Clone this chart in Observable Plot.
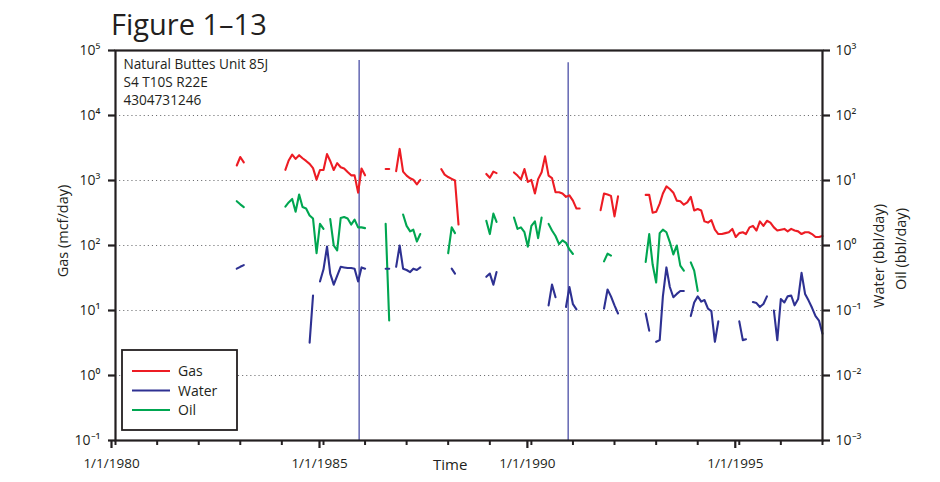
<!DOCTYPE html>
<html><head><meta charset="utf-8">
<script src="https://cdn.jsdelivr.net/npm/d3@7"></script>
<script src="https://cdn.jsdelivr.net/npm/@observablehq/plot@0.6"></script>
<style>
body{margin:0;background:#fff;font-family:"Open Sans",sans-serif;color:#231f20}
#wrap{position:relative;width:940px;height:482px;overflow:hidden}
.abs{position:absolute;white-space:nowrap;line-height:1}
</style></head><body><div id="wrap"></div>
<script>
// ---- data (monthly values; each segment = [first month, values...]) ----
const gasSegments = [ // mcf/day
  ["1982-12", [1700, 2300, 1900]],
  ["1984-02", [1460, 2030, 2500, 2150, 2450, 2200, 2000, 1800, 1550, 1030, 1450, 1450, 2550, 2000, 1450, 1850, 1600, 1530, 1350, 1200, 1200, 650, 1530, 1200]],
  ["1986-07", [1500, 1500]],
  ["1986-10", [1390, 3060, 1370, 1190, 1080, 1030, 870, 1020]],
  ["1987-11", [1500, 1230, 1130, 1060, 1000, 210]],
  ["1988-12", [1260, 1100, 1370, 1300]],
  ["1989-08", [1330, 1190, 1040, 1500, 950, 1020, 630, 1050, 1340, 2350, 1190, 1090, 660, 660, 630, 560, 590, 490, 370, 370]],
  ["1991-09", [350, 630, 610, 580, 280, 570]],
  ["1992-10", [600, 600, 320, 330, 440, 630, 810, 740, 650, 490, 480, 425, 460, 560, 345, 365, 345, 235, 225, 245, 175, 150, 150, 155, 160, 180, 135, 155, 160, 150, 190, 200, 170, 235, 200, 240, 225, 190, 170, 175, 180, 165, 180, 170, 165, 150, 160, 160, 150, 135, 135, 140]]
];
const waterSegments = [ // bbl/day
  ["1982-12", [0.44, 0.47, 0.5]],
  ["1984-09", [0.032, 0.17]],
  ["1984-12", [0.28, 0.43, 0.96, 0.37, 0.25, 0.34, 0.47, 0.46, 0.45, 0.45, 0.44, 0.28, 0.46, 0.44]],
  ["1986-07", [0.44, 0.44]],
  ["1986-10", [0.47, 1.0, 0.44, 0.42, 0.39, 0.44, 0.42, 0.46]],
  ["1988-02", [0.44, 0.37]],
  ["1988-12", [0.33, 0.37, 0.25, 0.39]],
  ["1990-06", [0.12, 0.25, 0.16]],
  ["1990-11", [0.113, 0.23, 0.125, 0.104]],
  ["1991-10", [0.107, 0.21, 0.165, 0.12, 0.09]],
  ["1992-10", [0.09, 0.049]],
  ["1993-01", [0.033, 0.035, 0.165, 0.46, 0.23, 0.16, 0.18, 0.2, 0.2]],
  ["1993-11", [0.082, 0.133, 0.165, 0.137, 0.145, 0.107, 0.098, 0.033, 0.068]],
  ["1995-01", [0.068, 0.035, 0.036]],
  ["1995-05", [0.135, 0.13, 0.113, 0.126, 0.165]],
  ["1995-11", [0.1, 0.035, 0.15, 0.133, 0.165, 0.17, 0.12, 0.15, 0.38, 0.18, 0.142, 0.11, 0.082, 0.07, 0.044]]
];
const oilSegments = [ // bbl/day
  ["1982-12", [4.8, 4.3, 3.9]],
  ["1984-02", [3.95, 4.6, 5.2, 3.3, 6.1, 3.9, 3.7, 2.9, 2.6, 0.76, 2.15, 1.8]],
  ["1985-03", [2.55, 1.0, 0.84, 2.65, 2.75, 2.6, 2.1, 2.5, 1.9, 1.9, 1.85]],
  ["1986-07", [2.15, 0.07]],
  ["1986-12", [3.0, 2.0, 1.65, 1.75, 1.15, 1.5]],
  ["1988-01", [0.76, 1.9, 1.55]],
  ["1988-12", [2.4, 1.5, 3.1, 2.3]],
  ["1989-08", [2.7, 1.8, 1.9, 1.6, 0.96, 2.0, 2.35, 1.3, 2.7]],
  ["1990-06", [2.15, 1.7, 1.4, 1.05, 1.2, 1.1, 0.87, 0.74]],
  ["1991-10", [0.57, 0.75, 0.7]],
  ["1992-10", [0.56, 1.5, 0.51, 0.27, 1.55, 1.75, 1.6, 1.13, 0.73, 1.0, 0.49, 0.41]],
  ["1993-11", [0.55, 0.41, 0.2]]
];
const eventDates = ["1985-11-10", "1990-11-20"];
const eventTops = [70000, 65000];
const leftTicks = [0.1, 1, 10, 100, 1000, 10000, 100000];
const gridTicks = [1, 10, 100, 1000, 10000];
const rightPerLeft = 100; // right axis (bbl/day) = left axis / 100
const yearTicks = d3.range(1980, 1998);
const labelYears = [1980, 1985, 1990, 1995];
const infoLines = ["Natural Buttes Unit 85J", "S4 T10S R22E", "4304731246"];
const legendItems = [["Gas", "#ed1c24"], ["Water", "#2e3192"], ["Oil", "#00a651"]];
const title = "Figure 1\u201313";

// ---- build ----
const parseM = d3.utcParse("%Y-%m");
function expand(segs, name, factor) {
  const out = [];
  segs.forEach(([start, vals], i) => {
    const d0 = parseM(start);
    vals.forEach((v, j) => out.push({date: d3.utcMonth.offset(d0, j), value: v * factor, seg: name + i}));
  });
  return out;
}
const gas = expand(gasSegments, "g", 1);
const water = expand(waterSegments, "w", rightPerLeft);
const oil = expand(oilSegments, "o", rightPerLeft);
const events = eventDates.map((d, i) => ({date: new Date(d), top: eventTops[i]}));
const supMap = {"0":"\u2070","1":"\u00b9","2":"\u00b2","3":"\u00b3","4":"\u2074","5":"\u2075","6":"\u2076","7":"\u2077","8":"\u2078","9":"\u2079","-":"\u207b"};
const sup = v => "10" + String(Math.round(Math.log10(v))).split("").map(c => supMap[c]).join("");
const yr = y => new Date(Date.UTC(y, 0, 1));

const ink = "#231f20";
const chart = Plot.plot({
  width: 940, height: 482,
  marginLeft: 115, marginRight: 118, marginTop: 50, marginBottom: 42,
  style: {fontFamily: "'Open Sans', sans-serif", fontSize: "14px", color: ink, background: "white", overflow: "visible"},
  x: {type: "utc", domain: [yr(1980), yr(1997)]},
  y: {type: "log", domain: [0.1, 100000]},
  marks: [
    Plot.ruleY(gridTicks, {stroke: "#6d6e71", strokeWidth: 1.1, strokeDasharray: "1.1,3"}),
    Plot.ruleX(events, {x: "date", y1: 0.1, y2: "top", stroke: "#4b4fa6", strokeWidth: 1.3}),
    Plot.line(oil, {x: "date", y: "value", z: "seg", stroke: "#00a651", strokeWidth: 2.1}),
    Plot.line(water, {x: "date", y: "value", z: "seg", stroke: "#2e3192", strokeWidth: 2.1}),
    Plot.line(gas, {x: "date", y: "value", z: "seg", stroke: "#ed1c24", strokeWidth: 2.1}),
    Plot.frame({stroke: ink, strokeWidth: 2.2}),
    Plot.axisY(leftTicks, {anchor: "left", tickSize: 7, tickPadding: 8, strokeWidth: 2.2, stroke: ink, tickFormat: sup, label: null}),
    Plot.axisY(leftTicks, {anchor: "right", tickSize: 7, tickPadding: 6, strokeWidth: 2.2, stroke: ink, tickFormat: v => sup(v / rightPerLeft), label: null}),
    Plot.axisX(yearTicks.map(yr), {anchor: "bottom", tickSize: 5, strokeWidth: 2, stroke: ink, tickFormat: () => "", label: null}),
    Plot.axisX(labelYears.map(yr), {anchor: "bottom", tickSize: 8, tickPadding: 10, strokeWidth: 2.2, stroke: ink, dx: -4, fontSize: 13.5, tickFormat: d => "1/1/" + d.getUTCFullYear(), label: null}),
    Plot.text([infoLines.join("\n")], {frameAnchor: "top-left", dx: 8, dy: 6, lineAnchor: "top", textAnchor: "start", lineHeight: 1.31, fontSize: 13.6, fill: ink})
  ]
});
const wrap = document.getElementById("wrap");
wrap.appendChild(chart);
chart.style.position = "absolute"; chart.style.left = "0"; chart.style.top = "0";

function addText(txt, css) {
  const d = document.createElement("div");
  d.className = "abs"; d.textContent = txt; Object.assign(d.style, css); wrap.appendChild(d); return d;
}
addText(title, {left: "111px", top: "9px", fontSize: "29px", color: ink});
addText("Time", {left: "433px", top: "457px", fontSize: "15px", color: ink});
addText("Gas (mcf/day)", {left: "63px", top: "231px", fontSize: "14.5px", color: ink, transform: "translate(-50%,-50%) rotate(-90deg)"});
addText("Water (bbl/day)", {left: "879px", top: "256px", fontSize: "14.5px", color: ink, transform: "translate(-50%,-50%) rotate(-90deg)"});
addText("Oil (bbl/day)", {left: "901px", top: "249px", fontSize: "14.5px", color: ink, transform: "translate(-50%,-50%) rotate(-90deg)"});

// legend
const ns = "http://www.w3.org/2000/svg";
const lg = document.createElementNS(ns, "svg");
lg.setAttribute("width", 940); lg.setAttribute("height", 482);
lg.style.position = "absolute"; lg.style.left = "0"; lg.style.top = "0";
const box = document.createElementNS(ns, "rect");
Object.entries({x: 122, y: 350, width: 115, height: 80, fill: "white", stroke: ink, "stroke-width": 1.8}).forEach(([k, v]) => box.setAttribute(k, v));
lg.appendChild(box);
legendItems.forEach(([name, color], i) => {
  const y = 371 + i * 19.5;
  const l = document.createElementNS(ns, "line");
  Object.entries({x1: 132, x2: 170, y1: y, y2: y, stroke: color, "stroke-width": 2}).forEach(([k, v]) => l.setAttribute(k, v));
  lg.appendChild(l);
  const t = document.createElementNS(ns, "text");
  Object.entries({x: 178, y: y + 5, fill: ink, "font-size": 14, "font-family": "'Open Sans', sans-serif"}).forEach(([k, v]) => t.setAttribute(k, v));
  t.textContent = name; lg.appendChild(t);
});
wrap.appendChild(lg);
</script>
</body></html>
